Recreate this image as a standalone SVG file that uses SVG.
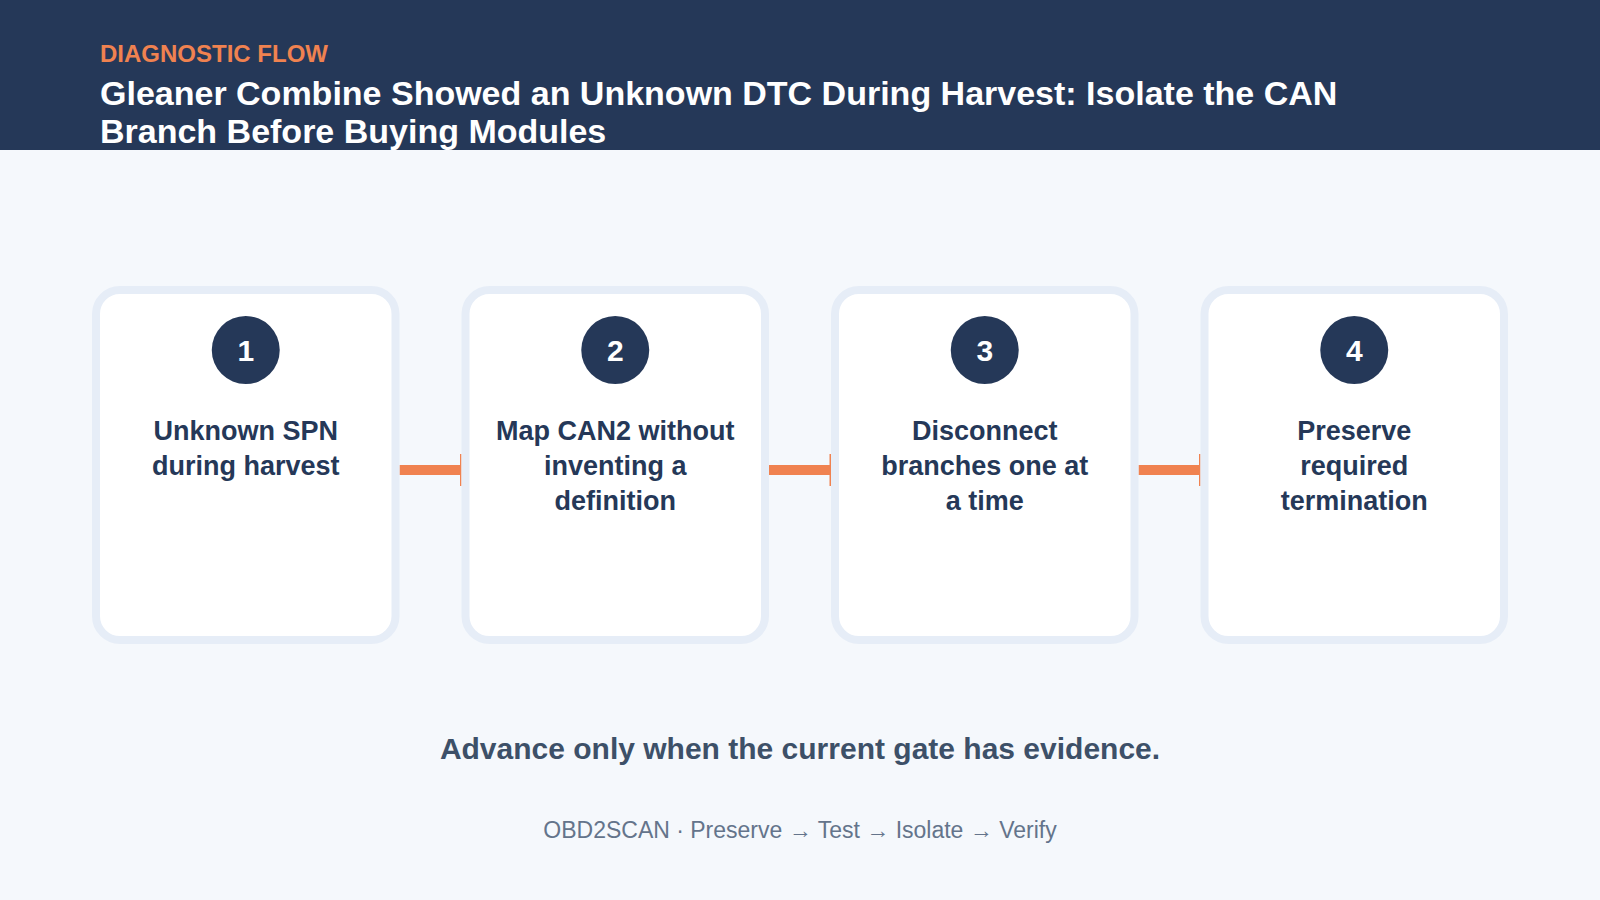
<svg xmlns="http://www.w3.org/2000/svg" width="1600" height="900" viewBox="0 0 1600 900">
  <style>
    .card { fill: #FFFFFF; stroke: #E6EDF7; stroke-width: 8; }
    .badge { fill: #253858; }
    .num { font-family: "Liberation Sans", Arial, sans-serif; font-weight: bold; font-size: 30px; fill: #FFFFFF; text-anchor: middle; }
    .label { font-family: "Liberation Sans", Arial, sans-serif; font-weight: bold; font-size: 27px; fill: #253858; text-anchor: middle; }
    .bar { fill: #F08250; }
  </style>
  <rect x="0" y="0" width="1600" height="900" fill="#F5F8FC"/>
  <g id="header">
    <rect x="0" y="0" width="1600" height="150" fill="#253858"/>
    <text x="100" y="62" font-family="Liberation Sans, Arial, sans-serif" font-weight="bold" font-size="24" fill="#F08250">DIAGNOSTIC FLOW</text>
    <text font-family="Liberation Sans, Arial, sans-serif" font-weight="bold" font-size="34" fill="#FFFFFF">
      <tspan x="100" y="105">Gleaner Combine Showed an Unknown DTC During Harvest: Isolate the CAN</tspan>
      <tspan x="100" y="143">Branch Before Buying Modules</tspan>
    </text>
  </g>
  <g id="connectors">
    <rect class="bar" x="399.5" y="465" width="61.5" height="10"/>
    <rect class="bar" x="460" y="454" width="1.5" height="32"/>
    <rect class="bar" x="769" y="465" width="61.5" height="10"/>
    <rect class="bar" x="829.5" y="454" width="1.5" height="32"/>
    <rect class="bar" x="1138.5" y="465" width="61.5" height="10"/>
    <rect class="bar" x="1199" y="454" width="1.5" height="32"/>
  </g>
  <g id="step1">
    <rect class="card" x="96" y="290" width="299.5" height="350" rx="24"/>
    <circle class="badge" cx="245.75" cy="350" r="34"/>
    <text class="num" x="245.75" y="361">1</text>
    <text class="label"><tspan x="245.75" y="440">Unknown SPN</tspan><tspan x="245.75" y="475">during harvest</tspan></text>
  </g>
  <g id="step2">
    <rect class="card" x="465.5" y="290" width="299.5" height="350" rx="24"/>
    <circle class="badge" cx="615.25" cy="350" r="34"/>
    <text class="num" x="615.25" y="361">2</text>
    <text class="label"><tspan x="615.25" y="440">Map CAN2 without</tspan><tspan x="615.25" y="475">inventing a</tspan><tspan x="615.25" y="510">definition</tspan></text>
  </g>
  <g id="step3">
    <rect class="card" x="835" y="290" width="299.5" height="350" rx="24"/>
    <circle class="badge" cx="984.75" cy="350" r="34"/>
    <text class="num" x="984.75" y="361">3</text>
    <text class="label"><tspan x="984.75" y="440">Disconnect</tspan><tspan x="984.75" y="475">branches one at</tspan><tspan x="984.75" y="510">a time</tspan></text>
  </g>
  <g id="step4">
    <rect class="card" x="1204.5" y="290" width="299.5" height="350" rx="24"/>
    <circle class="badge" cx="1354.25" cy="350" r="34"/>
    <text class="num" x="1354.25" y="361">4</text>
    <text class="label"><tspan x="1354.25" y="440">Preserve</tspan><tspan x="1354.25" y="475">required</tspan><tspan x="1354.25" y="510">termination</tspan></text>
  </g>
  <g id="footer">
    <text x="800" y="759" font-family="Liberation Sans, Arial, sans-serif" font-weight="bold" font-size="30" fill="#3D5068" text-anchor="middle">Advance only when the current gate has evidence.</text>
    <text x="800" y="838" font-family="Liberation Sans, Arial, sans-serif" font-size="23" fill="#64748B" text-anchor="middle">OBD2SCAN · Preserve → Test → Isolate → Verify</text>
  </g>
</svg>
